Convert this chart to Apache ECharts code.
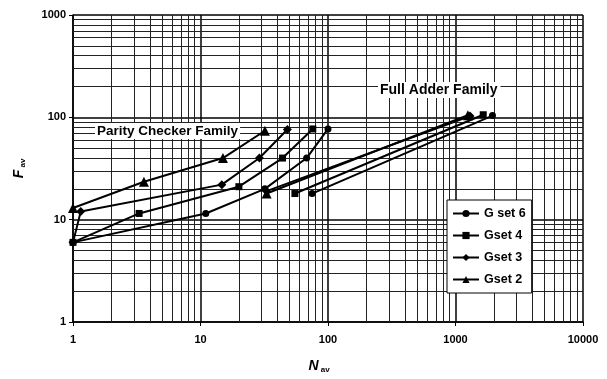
<!DOCTYPE html>
<html>
<head>
<meta charset="utf-8">
<script src="https://cdn.jsdelivr.net/npm/echarts@6/dist/echarts.min.js"></script>
<style>
html,body{margin:0;padding:0;background:#fff;}
#c{width:607px;height:379px;}
</style>
</head>
<body>
<div id="c"></div>
<script>
// ---- Data ----
var seriesNames = ['G set 6', 'Gset 4', 'Gset 3', 'Gset 2'];
var seriesSymbols = ['circle', 'rect', 'diamond', 'triangle'];

// Parity Checker Family
var g6ParityX = [1, 11, 32, 68, 100];
var g6ParityY = [6, 11.5, 20, 40, 77];
var g4ParityX = [1, 3.3, 20, 44, 76];
var g4ParityY = [6, 11.5, 21, 40, 77];
var g3ParityX = [1, 1.15, 14.7, 29, 48];
var g3ParityY = [6, 12, 22, 40, 76];
var g2ParityX = [1, 3.6, 15, 32];
var g2ParityY = [13, 23.5, 40, 74];

// Full Adder Family
var g6AdderX = [75, 1950];
var g6AdderY = [18, 104];
var g4AdderX = [55, 1650];
var g4AdderY = [18, 106];
var g3AdderX = [33, 1300];
var g3AdderY = [19, 103];
var g2AdderX = [33, 1250];
var g2AdderY = [18, 105];

// Axis ticks
var xTickLabels = [1, 10, 100, 1000, 10000];
var yTickLabels = [1, 10, 100, 1000];
var minorMultipliers = [2, 3, 4, 5, 6, 7, 8, 9];

function pairs(xs, ys) {
  var out = [];
  for (var i = 0; i < xs.length; i++) out.push([xs[i], ys[i]]);
  return out;
}

var parity = [pairs(g6ParityX, g6ParityY), pairs(g4ParityX, g4ParityY), pairs(g3ParityX, g3ParityY), pairs(g2ParityX, g2ParityY)];
var adder = [pairs(g6AdderX, g6AdderY), pairs(g4AdderX, g4AdderY), pairs(g3AdderX, g3AdderY), pairs(g2AdderX, g2AdderY)];
var symSizes = [7, 7, 9, 10];

// minor grid positions (axis tick positions, not data)
var minorX = [], minorY = [];
xTickLabels.slice(0, -1).forEach(function (d) { minorMultipliers.forEach(function (m) { minorX.push({ xAxis: d * m }); }); });
yTickLabels.slice(0, -1).forEach(function (d) { minorMultipliers.forEach(function (m) { minorY.push({ yAxis: d * m }); }); });

var series = [];
for (var k = 0; k < 4; k++) {
  [parity[k], adder[k]].forEach(function (d) {
    series.push({
      name: seriesNames[k],
      type: 'line',
      data: d,
      symbol: seriesSymbols[k],
      symbolSize: symSizes[k],
      showAllSymbol: true,
      lineStyle: { color: '#000', width: 2 },
      itemStyle: { color: '#000' },
      z: 5,
      animation: false
    });
  });
}
// grid lines series
series.push({
  type: 'line',
  data: [],
  silent: true,
  z: 1,
  zlevel: 0,
  markLine: {
    silent: true,
    symbol: ['none', 'none'],
    label: { show: false },
    animation: false,
    lineStyle: { color: '#222', width: 1, type: 'solid' },
    data: minorX.concat(minorY)
  }
});

function fmt(v) { return String(v); }

var chart = echarts.init(document.getElementById('c'), null, { renderer: 'canvas' });
chart.setOption({
  animation: false,
  backgroundColor: '#fff',
  grid: { left: 73, right: 24, top: 15, bottom: 55, containLabel: false },
  xAxis: {
    type: 'log',
    logBase: 10,
    min: 1,
    max: 10000,
    name: '{i|N}{s| av}',
    nameLocation: 'middle',
    nameGap: 36,
    nameTextStyle: {
      padding: [0, 18, 0, 0],
      rich: {
        i: { fontFamily: 'Liberation Sans, Arial', fontStyle: 'italic', fontWeight: 'bold', fontSize: 14, color: '#000' },
        s: { fontFamily: 'Liberation Sans, Arial', fontWeight: 'bold', fontSize: 8, color: '#000', padding: [8, 0, 0, 0] }
      }
    },
    axisLine: { show: true, lineStyle: { color: '#000', width: 1.5 } },
    axisTick: { show: true, length: 4, lineStyle: { color: '#000' } },
    axisLabel: { formatter: fmt, color: '#000', fontFamily: 'Liberation Sans, Arial', fontWeight: 'bold', fontSize: 11, margin: 12 },
    splitLine: { show: true, lineStyle: { color: '#000', width: 1.5 } }
  },
  yAxis: {
    type: 'log',
    logBase: 10,
    min: 1,
    max: 1000,
    name: '{i|F}{s| av}',
    nameLocation: 'middle',
    nameGap: 46,
    nameRotate: 90,
    nameTextStyle: {
      rich: {
        i: { fontFamily: 'Liberation Sans, Arial', fontStyle: 'italic', fontWeight: 'bold', fontSize: 14, color: '#000' },
        s: { fontFamily: 'Liberation Sans, Arial', fontWeight: 'bold', fontSize: 8, color: '#000', padding: [8, 0, 0, 0] }
      }
    },
    axisLine: { show: true, lineStyle: { color: '#000', width: 1.5 } },
    axisTick: { show: true, length: 4, lineStyle: { color: '#000' } },
    axisLabel: { formatter: fmt, color: '#000', fontFamily: 'Liberation Sans, Arial', fontWeight: 'bold', fontSize: 11, margin: 7 },
    splitLine: { show: true, lineStyle: { color: '#000', width: 1.5 } }
  },
  legend: {
    data: seriesNames,
    orient: 'vertical',
    left: 447,
    top: 200,
    z: 50,
    zlevel: 1,
    backgroundColor: '#fff',
    borderColor: '#000',
    borderWidth: 1,
    padding: [7, 6, 7, 5],
    itemGap: 9,
    itemWidth: 26,
    itemHeight: 9,
    textStyle: { color: '#000', fontFamily: 'Liberation Sans, Arial', fontWeight: 'bold', fontSize: 12.5 }
  },
  graphic: [
    {
      type: 'text',
      left: 95,
      top: 123,
      z: 10,
      zlevel: 1,
      style: {
        text: 'Parity Checker Family',
        fill: '#000',
        font: 'bold 13.5px "Liberation Sans", Arial',
        backgroundColor: '#fff',
        padding: [1, 2, 1, 2]
      }
    },
    {
      type: 'text',
      left: 378,
      top: 82,
      z: 10,
      zlevel: 1,
      style: {
        text: 'Full Adder Family',
        fill: '#000',
        font: 'bold 14px "Liberation Sans", Arial',
        backgroundColor: '#fff',
        padding: [1, 3, 1, 2]
      }
    }
  ],
  series: series
});
</script>
</body>
</html>
